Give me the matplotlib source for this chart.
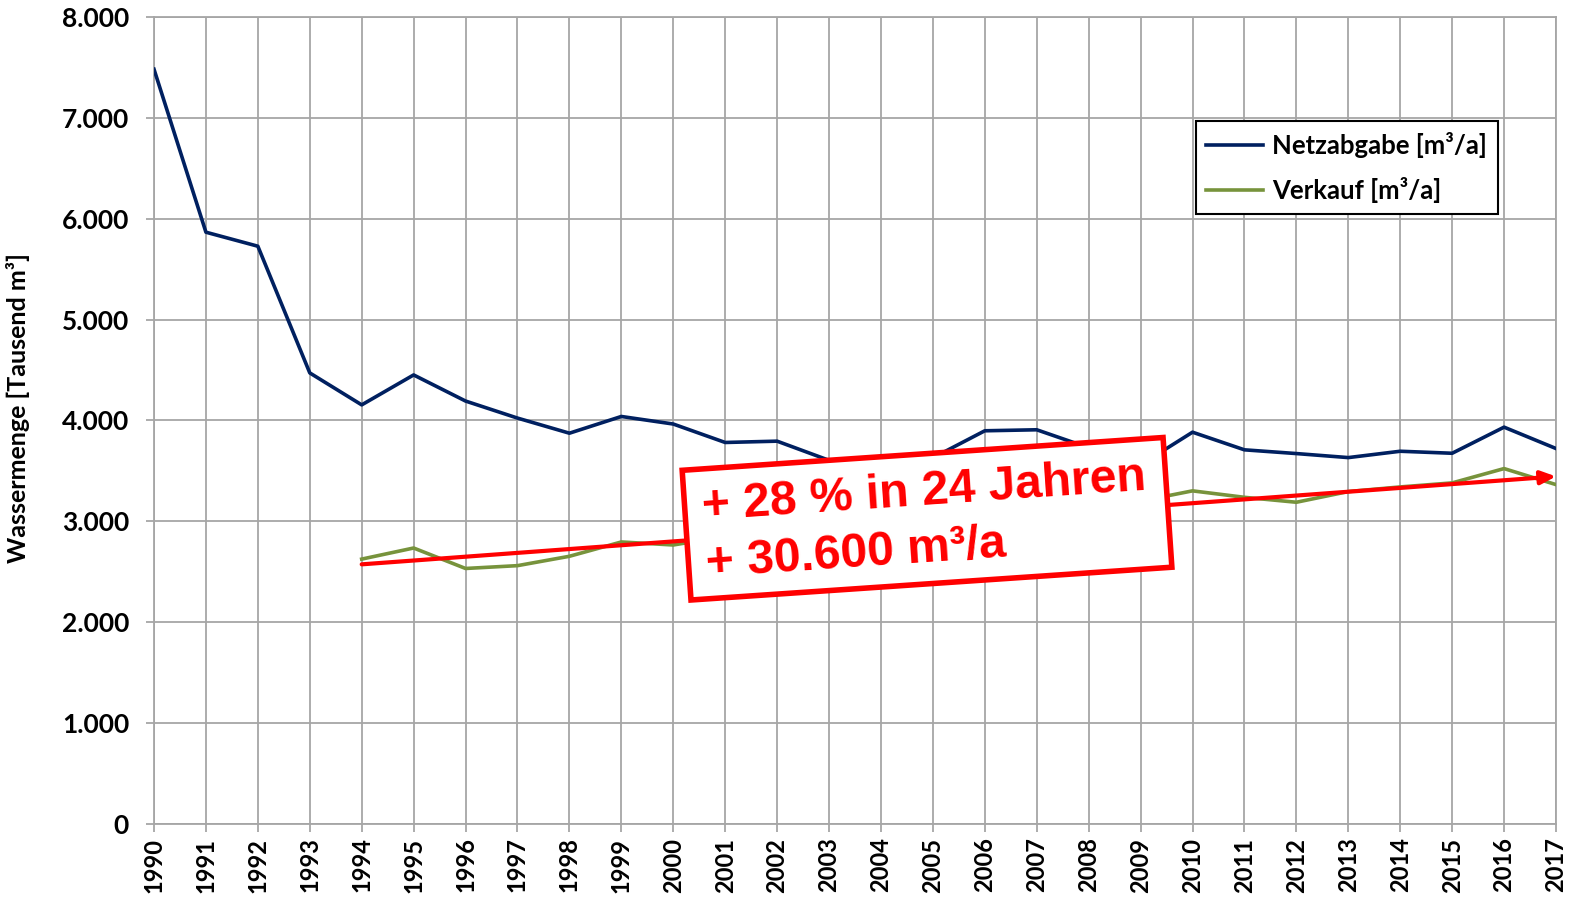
import numpy as np
import matplotlib
matplotlib.use('Agg')
import matplotlib.pyplot as plt
from matplotlib.patches import Rectangle
from matplotlib.ticker import FuncFormatter

years = list(range(1990, 2018))
netzabgabe = [7485, 5868, 5729, 4472, 4155, 4452, 4193, 4024, 3874, 4040,
              3965, 3782, 3795, 3605, 3590, 3630, 3898, 3908, 3730, 3560,
              3884, 3709, 3672, 3632, 3695, 3675, 3934, 3722]
verkauf = [np.nan, np.nan, np.nan, np.nan, 2625, 2735, 2532, 2560, 2653, 2795,
           2765, 2850, 2900, 2950, 3000, 3050, 3100, 3140, 3170, 3200,
           3302, 3238, 3189, 3295, 3341, 3381, 3523, 3364]
trend_years = [1994, 2017]
trend_vals = [2573, 3445]

label_netz = 'Netzabgabe [m³/a]'
label_verk = 'Verkauf [m³/a]'
ylabel = 'Wassermenge [Tausend m³]'
note_1 = '+ 28 % in 24 Jahren'
note_2 = '+ 30.600 m³/a'

plt.rcParams['font.family'] = ['Lato', 'DejaVu Sans']
plt.rcParams['font.weight'] = 'bold'

fig = plt.figure(figsize=(15.76, 8.97), dpi=100)
ax = fig.add_axes([154 / 1576, 1 - 823.7 / 897, (1556 - 154) / 1576, (823.7 - 17.3) / 897])

grid_c = '#a6a6a6'
ax.set_xlim(1990, 2017)
ax.set_ylim(0, 8000)
ax.set_xticks(years)
ax.set_yticks(range(0, 8001, 1000))
ax.yaxis.set_major_formatter(FuncFormatter(lambda v, p: f'{int(v):,}'.replace(',', '.')))
ax.grid(True, color=grid_c, lw=1.3)
ax.set_axisbelow(True)
for s in ax.spines.values():
    s.set_color(grid_c)
    s.set_linewidth(1.3)
ax.tick_params(axis='both', colors=grid_c, length=6, width=1.3, labelcolor='black')
ax.tick_params(axis='x', labelrotation=90, pad=4, labelsize=17)
ax.tick_params(axis='y', pad=12, labelsize=19)
for t in ax.get_xticklabels() + ax.get_yticklabels():
    t.set_fontweight('bold')

ax.plot(years, netzabgabe, color='#002060', lw=2.6, label=label_netz, zorder=3)
ax.plot(years, verkauf, color='#77933c', lw=2.6, label=label_verk, zorder=3)

ax.annotate('', xy=(trend_years[1], trend_vals[1]), xytext=(trend_years[0], trend_vals[0]),
            arrowprops=dict(arrowstyle='-|>,head_length=0.9,head_width=0.4', color='red',
                            lw=3, shrinkA=0, shrinkB=0), zorder=4)

fig.text(18 / 1576, 1 - 408 / 897, ylabel, rotation=90, ha='center', va='center',
         fontsize=18, fontweight='bold')

# annotation box (inches, from lower left of figure)
box = Rectangle((6.91, 2.97), 4.82, 1.30, angle=3.9, transform=fig.dpi_scale_trans,
                facecolor='white', edgecolor='red', lw=4, zorder=5)
fig.patches.append(box)
for txt, (xi, yi) in [(note_1, (7.03, 3.77)), (note_2, (7.07, 3.20))]:
    fig.text(xi, yi, txt, transform=fig.dpi_scale_trans, rotation=3.9, rotation_mode='anchor',
             ha='left', va='baseline', color='red', fontsize=34.6, fontweight='bold',
             family=['Liberation Sans', 'DejaVu Sans'], zorder=6)

leg = ax.legend(loc='upper left', bbox_to_anchor=(0.743, 0.871), borderaxespad=0,
                fontsize=18.5, handlelength=2.2, handletextpad=0.35, labelspacing=0.75,
                borderpad=0.42, fancybox=False, framealpha=1)
leg.get_frame().set_edgecolor('black')
leg.get_frame().set_linewidth(1.5)
for t in leg.get_texts():
    t.set_fontweight('bold')

fig.savefig('out.png', dpi=100)
